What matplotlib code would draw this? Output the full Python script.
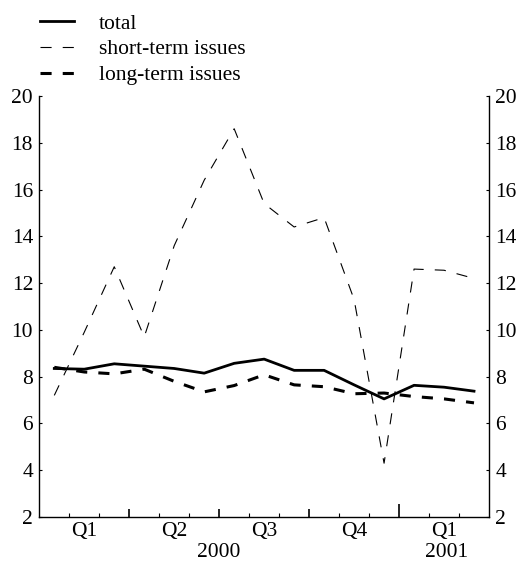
import numpy as np
import matplotlib
matplotlib.use("Agg")
import matplotlib.pyplot as plt
import matplotlib.transforms as mtransforms

plt.rcParams['font.family'] = ['Liberation Serif', 'DejaVu Serif']
plt.rcParams['lines.scale_dashes'] = False

# monthly observations, Jan 2000 .. Mar 2001
months = ['Jan 00', 'Feb 00', 'Mar 00', 'Apr 00', 'May 00', 'Jun 00', 'Jul 00',
          'Aug 00', 'Sep 00', 'Oct 00', 'Nov 00', 'Dec 00', 'Jan 01', 'Feb 01', 'Mar 01']
total = [8.35, 8.32, 8.55, 8.45, 8.35, 8.15, 8.57, 8.75, 8.27, 8.27, 7.65, 7.05, 7.63, 7.55, 7.38]
short_term = [7.2, 9.9, 12.7, 9.7, 13.6, 16.4, 18.6, 15.4, 14.4, 14.8, 11.3, 4.3, 12.6, 12.55, 12.2]
long_term = [8.4, 8.2, 8.12, 8.32, 7.8, 7.35, 7.62, 8.08, 7.65, 7.57, 7.27, 7.3, 7.15, 7.05, 6.88]

quarter_labels = ['Q1', 'Q2', 'Q3', 'Q4', 'Q1']
quarter_pos = [1, 4, 7, 10, 13]
year_labels = ['2000', '2001']
year_pos = [5.5, 13.1]

x = np.arange(len(months))
fs = 15.5

fig = plt.figure(figsize=(5.2, 5.62), dpi=100)
ax = fig.add_axes([39.3 / 520, 1 - 517 / 562, (489 - 39.3) / 520, (517 - 96) / 562])

ax.plot(x, total, color='black', lw=2.0, label='total')
ax.plot(x, short_term, color='black', lw=0.8, linestyle=(0, (8, 8)),
        label='short-term issues')
ax.plot(x, long_term, color='black', lw=2.2, linestyle=(0, (8, 8)),
        label='long-term issues')

ax.set_xlim(-0.5, len(months) - 0.5)
ax.set_ylim(2, 20)
ax.set_yticks(np.arange(2, 21, 2))

# month boundaries as minor ticks, quarter boundaries as major ticks
bounds = np.arange(0.5, len(months) - 1, 1.0)
qbounds = [b for b in bounds if (b + 0.5) % 3 == 0]
ax.set_xticks(qbounds)
ax.set_xticks([b for b in bounds if b not in qbounds], minor=True)
ax.set_xticklabels([])

ax.spines['top'].set_visible(False)
for s in ['left', 'right', 'bottom']:
    ax.spines[s].set_linewidth(1.0)

ax.tick_params(axis='y', which='both', direction='in', length=2.5, width=0.8,
               left=True, right=True, labelleft=True, labelright=True,
               labelsize=fs, pad=4.5)
ax.tick_params(axis='x', which='major', direction='in', length=6, width=1.2)
ax.tick_params(axis='x', which='minor', direction='in', length=3, width=0.8)

# the year boundary gets a longer tick
for t, b in zip(ax.xaxis.get_major_ticks(), qbounds):
    if b == 11.5:
        t.tick1line.set_markersize(9.5)

trans = ax.get_xaxis_transform()
off1 = mtransforms.offset_copy(trans, fig=fig, y=-3.5, units='points')
off2 = mtransforms.offset_copy(trans, fig=fig, y=-19, units='points')
for lab, p in zip(quarter_labels, quarter_pos):
    ax.text(p, 0, lab, transform=off1, ha='center', va='top', fontsize=fs)
for lab, p in zip(year_labels, year_pos):
    ax.text(p, 0, lab, transform=off2, ha='center', va='top', fontsize=fs)

fig.legend(loc='upper left', bbox_to_anchor=(40 / 520, 1 - 13.5 / 562),
           frameon=False, fontsize=fs, handlelength=1.6, handletextpad=1.15,
           labelspacing=0.27, borderpad=0, borderaxespad=0)

fig.savefig('out.png', dpi=100)
